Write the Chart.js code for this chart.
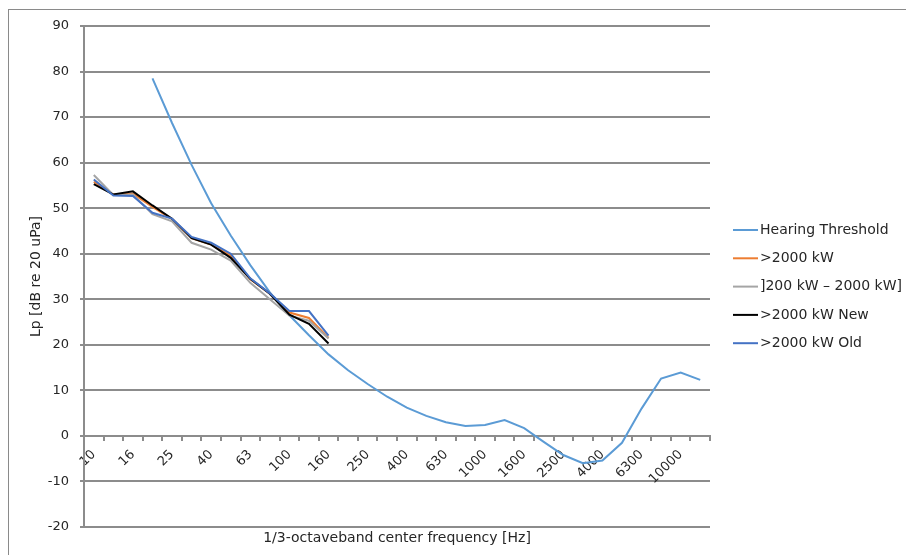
<!DOCTYPE html>
<html>
<head>
<meta charset="utf-8">
<title>Hearing threshold</title>
<script src="https://cdn.jsdelivr.net/npm/chart.js@4.4.1/dist/chart.umd.min.js"></script>
<style>
  html, body { margin: 0; padding: 0; background: #fff; }
  canvas { display: block; }
</style>
</head>
<body>
<canvas id="noiseChart" width="906" height="555"></canvas>
<script>
// 1/3 octave band center frequencies [Hz]
let bands = ['10', '12.5', '16', '20', '25', '31.5', '40', '50', '63', '80', '100', '125', '160', '200',
  '250', '315', '400', '500', '630', '800', '1000', '1250', '1600', '2000', '2500', '3150', '4000',
  '5000', '6300', '8000', '10000', '12500'];

// hearing threshold (starts at 20 Hz)
let hearingThreshold = [null, null, null, 78.5, 68.7, 59.5, 51.1, 44.0, 37.5, 31.5, 26.5, 22.1, 17.9,
  14.4, 11.4, 8.6, 6.2, 4.4, 3.0, 2.2, 2.4, 3.5, 1.7, -1.3, -4.2, -6.0, -5.4, -1.5, 6.0, 12.6, 13.9, 12.3];

// measured levels 10 Hz - 160 Hz
let over2000 = [55.8, 53.0, 53.2, 50.3, 47.6, 43.4, 42.0, 39.6, 34.4, 31.2, 27.1, 25.9, 21.5];
let range200to2000 = [57.3, 52.9, 53.0, 48.7, 47.1, 42.4, 40.9, 38.5, 33.6, 30.0, 26.4, 25.3, 21.4];
let over2000New = [55.3, 53.0, 53.7, 50.6, 47.7, 43.4, 42.0, 39.1, 34.5, 31.2, 26.6, 24.6, 20.3];
let over2000Old = [56.3, 52.8, 52.7, 49.0, 47.7, 43.7, 42.4, 40.0, 34.6, 31.3, 27.4, 27.4, 22.0];

// y axis
let yMin = -20;
let yMax = 90;
let yStep = 10;

let textColor = '#262626';
let gridColor = '#8c8c8c';
let fontName = '"DejaVu Sans", sans-serif';

// frame + x title + legend
const extrasPlugin = {
  id: 'extras',
  beforeDraw(chart) {
    const ctx = chart.ctx;
    ctx.save();
    ctx.strokeStyle = '#8a8a8a';
    ctx.lineWidth = 1;
    ctx.strokeRect(8.5, 9.5, 1000, 1000);
    ctx.restore();
  },
  afterDraw(chart) {
    const ctx = chart.ctx;
    const area = chart.chartArea;
    ctx.save();
    ctx.fillStyle = textColor;
    ctx.font = '14px ' + fontName;
    ctx.textAlign = 'center';
    ctx.textBaseline = 'middle';
    ctx.fillText('1/3-octaveband center frequency [Hz]', (area.left + area.right) / 2, 538);

    // legend
    ctx.textAlign = 'left';
    chart.data.datasets.forEach(function (ds, i) {
      let y = 230 + i * 28.3;
      ctx.strokeStyle = ds.borderColor;
      ctx.lineWidth = 2;
      ctx.beginPath();
      ctx.moveTo(733, y);
      ctx.lineTo(758, y);
      ctx.stroke();
      ctx.fillText(ds.label, 760, y);
    });
    ctx.restore();
  }
};

function lineSet(label, data, color, order) {
  return {
    label: label,
    data: data,
    borderColor: color,
    backgroundColor: color,
    borderWidth: 2,
    pointRadius: 0,
    tension: 0,
    order: order
  };
}

new Chart(document.getElementById('noiseChart'), {
  type: 'line',
  data: {
    labels: bands,
    datasets: [
      lineSet('Hearing Threshold', hearingThreshold, '#5b9bd5', 4),
      lineSet('>2000 kW', over2000, '#ed7d31', 3),
      lineSet(']200 kW \u2013 2000 kW]', range200to2000, '#a5a5a5', 2),
      lineSet('>2000 kW New', over2000New, '#000000', 1),
      lineSet('>2000 kW Old', over2000Old, '#4472c4', 0)
    ]
  },
  options: {
    responsive: false,
    animation: false,
    layout: { padding: { left: 0, top: 26, right: 196, bottom: 28 } },
    plugins: {
      legend: { display: false },
      tooltip: { enabled: false }
    },
    scales: {
      x: {
        position: { y: 0 },
        offset: true,
        grid: { display: true, offset: true, drawOnChartArea: false, drawTicks: true, tickLength: 4, color: gridColor, lineWidth: 2 },
        border: { display: true, color: gridColor, width: 2 },
        ticks: {
          autoSkip: false,
          maxRotation: 45,
          minRotation: 45,
          padding: 7,
          color: textColor,
          font: { family: fontName, size: 13 },
          callback: function (val, i) { return i % 2 === 0 ? bands[i] : ''; }
        }
      },
      y: {
        min: yMin,
        max: yMax,
        afterFit: function (scale) { scale.width = 84; },
        grid: { color: gridColor, lineWidth: 2, tickLength: 4 },
        border: { display: true, color: gridColor, width: 2 },
        ticks: { stepSize: yStep, padding: 11, color: textColor, font: { family: fontName, size: 13 } },
        title: {
          display: true,
          text: 'Lp [dB re 20 uPa]',
          color: textColor,
          font: { family: fontName, size: 14 },
          padding: { top: 28, bottom: 0 }
        }
      }
    }
  },
  plugins: [extrasPlugin]
});
</script>
</body>
</html>
